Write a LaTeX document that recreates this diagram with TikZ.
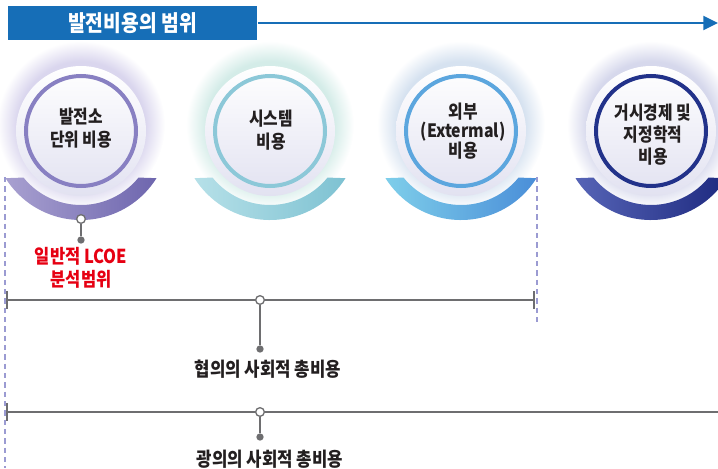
\documentclass[tikz,border=0pt]{standalone}
\usepackage{fontspec}
\setmainfont{Noto Sans CJK KR}[FakeStretch=0.86]
\usetikzlibrary{arrows.meta,calc}

\definecolor{headblue}{RGB}{22,110,183}
\definecolor{linegray}{RGB}{110,110,112}
\definecolor{textdark}{RGB}{35,31,32}
\definecolor{lcoered}{RGB}{230,0,18}
\definecolor{guidelav}{RGB}{155,155,210}
\definecolor{discshade}{RGB}{226,226,241}
% halo, ring and band colours of the four cost circles
\definecolor{haloA}{RGB}{218,214,238}
\definecolor{ringA}{RGB}{136,128,194}
\definecolor{bandAl}{RGB}{168,160,208}
\definecolor{bandAr}{RGB}{110,102,174}
\definecolor{haloB}{RGB}{212,236,232}
\definecolor{ringB}{RGB}{140,200,216}
\definecolor{bandBl}{RGB}{182,224,232}
\definecolor{bandBr}{RGB}{126,194,210}
\definecolor{haloC}{RGB}{214,226,240}
\definecolor{ringC}{RGB}{92,166,222}
\definecolor{bandCl}{RGB}{126,206,234}
\definecolor{bandCr}{RGB}{74,142,216}
\definecolor{haloD}{RGB}{214,216,236}
\definecolor{ringD}{RGB}{34,50,138}
\definecolor{bandDl}{RGB}{86,100,182}
\definecolor{bandDr}{RGB}{30,42,128}

\colorlet{glowtint}{haloA}
\pgfdeclareradialshading[glowtint]{halo}{\pgfpoint{0bp}{0bp}}{color(0bp)=(glowtint); color(19bp)=(glowtint); color(25bp)=(white); color(50bp)=(white)}

\tikzset{every picture/.style={line width=0.75pt}}
\tikzset{
  titlebox/.style={fill=headblue, text=white, minimum width=186.75pt, minimum height=25.5pt, inner sep=0pt, font=\bfseries\fontsize{16.8}{19}\selectfont},
  flow/.style={draw=headblue, line width=1.6pt, -{Triangle[length=11pt, width=10.5pt]}},
  disc/.style={top color=white, bottom color=discshade},
  unitlabel/.style={align=center, text=textdark, inner sep=0pt, font=\bfseries\fontsize{13.8}{17.5}\selectfont},
  guide/.style={draw=guidelav, line width=0.9pt, dash pattern=on 4pt off 3pt},
  span/.style={draw=linegray, line width=1.8pt},
  hollowdot/.style={circle, draw=linegray, fill=white, line width=1pt, inner sep=0pt, minimum size=6.5pt},
  enddot/.style={circle, fill=linegray, inner sep=0pt, minimum size=5.5pt},
  stem/.style={draw=linegray, line width=1.6pt},
  barlabel/.style={text=textdark, inner sep=0pt, font=\bfseries\fontsize{14.6}{17}\selectfont},
  lcoelabel/.style={align=center, text=lcoered, inner sep=0pt, font=\bfseries\fontsize{14.4}{17.5}\selectfont}
}

\begin{document}
\begin{tikzpicture}[x=0.75pt,y=0.75pt,yscale=-1]
\useasboundingbox (0,0) rectangle (718,468);
\clip (0,0) rectangle (718,468);

\coordinate (c1) at (81,131);
\coordinate (c2) at (270,131);
\coordinate (c3) at (461,131);
\coordinate (c4) at (651,131);

%Title bar and range arrow
\node[titlebox] (title) at (132.5,23) {발전비용의 범위};
\coordinate (tip) at (718,23);
\draw[flow] (title.east) -- (tip);

%Unit 1: plant level
\colorlet{glowtint}{haloA}
\shade[shading=halo] ($(c1)+(0,-6)$) circle[radius=84];
\shade[left color=bandAl, right color=bandAr] ($(c1)+(32:89)$) arc[start angle=32, end angle=148, radius=89] -- ($(c1)+(141:74)$) arc[start angle=141, end angle=39, radius=74] -- cycle;
\shade[disc] (c1) circle[radius=65];
\draw[ringA, line width=3pt] (c1) circle[radius=55];
\node[unitlabel] (lbl1) at (81,128) {발전소\\단위 비용};

%Unit 2: system
\colorlet{glowtint}{haloB}
\shade[shading=halo] ($(c2)+(0,-6)$) circle[radius=84];
\shade[left color=bandBl, right color=bandBr] ($(c2)+(32:89)$) arc[start angle=32, end angle=148, radius=89] -- ($(c2)+(141:74)$) arc[start angle=141, end angle=39, radius=74] -- cycle;
\shade[disc] (c2) circle[radius=65];
\draw[ringB, line width=3pt] (c2) circle[radius=55];
\node[unitlabel] (lbl2) at (271,130) {시스템\\비용};

%Unit 3: external
\colorlet{glowtint}{haloC}
\shade[shading=halo] ($(c3)+(0,-6)$) circle[radius=84];
\shade[left color=bandCl, right color=bandCr] ($(c3)+(32:89)$) arc[start angle=32, end angle=148, radius=89] -- ($(c3)+(141:74)$) arc[start angle=141, end angle=39, radius=74] -- cycle;
\shade[disc] (c3) circle[radius=65];
\draw[ringC, line width=3pt] (c3) circle[radius=55];
\node[unitlabel, font=\bfseries\fontsize{13.8}{14.5}\selectfont] (lbl3) at (463,131) {외부\\(Extermal)\\비용};

%Unit 4: macroeconomic
\colorlet{glowtint}{haloD}
\shade[shading=halo] ($(c4)+(0,-6)$) circle[radius=84];
\shade[left color=bandDl, right color=bandDr] ($(c4)+(32:89)$) arc[start angle=32, end angle=148, radius=89] -- ($(c4)+(141:74)$) arc[start angle=141, end angle=39, radius=74] -- cycle;
\shade[disc] (c4) circle[radius=65];
\draw[ringD, line width=3pt] (c4) circle[radius=55];
\node[unitlabel, font=\bfseries\fontsize{13.8}{16.5}\selectfont] (lbl4) at (653,135) {거시경제 및\\지정학적\\비용};

%Dashed guides
\coordinate (g1t) at (5,177);
\coordinate (g1b) at (5,468);
\coordinate (g2t) at (537,177);
\coordinate (g2b) at (537,325);
\draw[guide] (g1t) -- (g1b);
\draw[guide] (g2t) -- (g2b);

%LCOE marker
\node[hollowdot] (h0) at (81,219) {};
\node[enddot] (e0) at (81,240) {};
\draw[stem] (h0) -- (e0);
\node[lcoelabel] (lcoe) at (81,268) {일반적 LCOE\\분석범위};

%Narrow span
\coordinate (n1) at (6,300);
\coordinate (n2) at (535,300);
\draw[span, {Bar[width=13pt]}-{Bar[width=13pt]}] (n1) -- (n2);
\node[hollowdot] (h1) at (260,300) {};
\node[enddot] (e1) at (260,349) {};
\draw[stem] (h1) -- (e1);
\node[barlabel] (narrow) at (268,369) {협의의 사회적 총비용};

%Broad span
\coordinate (w1) at (6,412);
\coordinate (w2) at (718,412);
\draw[span, {Bar[width=13pt]}-] (w1) -- (w2);
\node[hollowdot] (h2) at (260,412) {};
\node[enddot] (e2) at (260,437) {};
\draw[stem] (h2) -- (e2);
\node[barlabel] (broad) at (270,459) {광의의 사회적 총비용};

\end{tikzpicture}
\end{document}
